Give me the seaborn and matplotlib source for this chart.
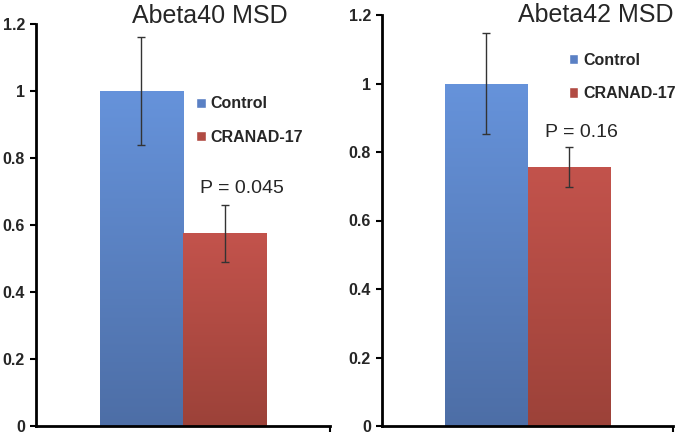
import numpy as np
import pandas as pd
import matplotlib
matplotlib.use("Agg")
import matplotlib.pyplot as plt
import seaborn as sns
from matplotlib.colors import LinearSegmentedColormap

# data
groups = ["Control", "CRANAD-17"]
abeta40_mean = [1.0, 0.576]
abeta40_err = [0.162, 0.085]
abeta42_mean = [1.0, 0.757]
abeta42_err = [0.147, 0.058]
titles = ["Abeta40 MSD", "Abeta42 MSD"]
p_labels = ["P = 0.045", "P = 0.16"]
yticks = [0, 0.2, 0.4, 0.6, 0.8, 1.0, 1.2]
ytick_labels = ["0", "0.2", "0.4", "0.6", "0.8", "1", "1.2"]

colors = {"Control": "#5a80c4", "CRANAD-17": "#b14b43"}
grad = {"Control": ("#4d6ea6", "#6693db"), "CRANAD-17": ("#9c4239", "#c3534c")}

sns.set_style("white")
plt.rcParams["font.family"] = ["Liberation Sans", "DejaVu Sans"]

fig = plt.figure(figsize=(6.8, 4.37), dpi=100)
ax1 = fig.add_axes([36 / 680, 11 / 437, 294 / 680, 402 / 437])
ax2 = fig.add_axes([382 / 680, 11 / 437, 291 / 680, 411 / 437])


def draw_panel(ax, means, errs, title, ptxt, leg_xy, p_xy, title_xy, title_ha):
    df = pd.DataFrame({"cat": ["x", "x"], "group": groups, "val": means})
    sns.barplot(data=df, x="cat", y="val", hue="group", hue_order=groups,
                palette=colors, width=0.8, ax=ax, errorbar=None, saturation=1)
    # gradient fill, lighter at the top like the Excel bars
    bars = ax.patches[:2]
    for p, g in zip(bars, groups):
        x0, y0 = p.get_x(), p.get_y()
        w, h = p.get_width(), p.get_height()
        cmap = LinearSegmentedColormap.from_list(g, grad[g])
        img = ax.imshow(np.linspace(0, 1, 256).reshape(-1, 1), cmap=cmap,
                        extent=[x0, x0 + w, y0, y0 + h], origin="lower",
                        aspect="auto", zorder=p.get_zorder() + 0.1)
        img.set_clip_path(p)
    xs = [p.get_x() + p.get_width() / 2 for p in bars]
    ax.errorbar(xs, means, yerr=errs, fmt="none", ecolor="#333333",
                elinewidth=1.0, capsize=3, capthick=1.0, zorder=5)

    ax.set_xlim(-0.705, 0.705)
    ax.set_ylim(0, 1.2)
    ax.set_yticks(yticks)
    ax.set_yticklabels(ytick_labels, fontweight="bold", fontsize=11.5)
    ax.set_xticks([0.705])
    ax.set_xticklabels([""])
    ax.set_xlabel("")
    ax.set_ylabel("")
    for s in ["top", "right"]:
        ax.spines[s].set_visible(False)
    for s in ["left", "bottom"]:
        ax.spines[s].set_color("black")
        ax.spines[s].set_linewidth(2)
    ax.tick_params(axis="both", direction="out", length=4, width=1.5,
                   color="black", pad=4, left=True, bottom=True)

    ax.legend(loc="upper left", bbox_to_anchor=leg_xy, frameon=False,
              handlelength=0.6, handleheight=0.6, handletextpad=0.3,
              labelspacing=1.15, borderpad=0, borderaxespad=0,
              prop={"weight": "bold", "size": 11.5})
    ax.text(p_xy[0], p_xy[1], ptxt, transform=ax.transAxes, ha="center",
            va="center", fontsize=14)
    ax.text(title_xy[0], title_xy[1], title, transform=ax.transAxes,
            ha=title_ha, va="center", fontsize=18)


draw_panel(ax1, abeta40_mean, abeta40_err, titles[0], p_labels[0],
           (0.545, 0.82), (0.70, 0.592), (0.592, 1.02), "center")
draw_panel(ax2, abeta42_mean, abeta42_err, titles[1], p_labels[1],
           (0.642, 0.908), (0.687, 0.713), (1.0, 1.0), "right")

fig.savefig("out.png", dpi=100)
